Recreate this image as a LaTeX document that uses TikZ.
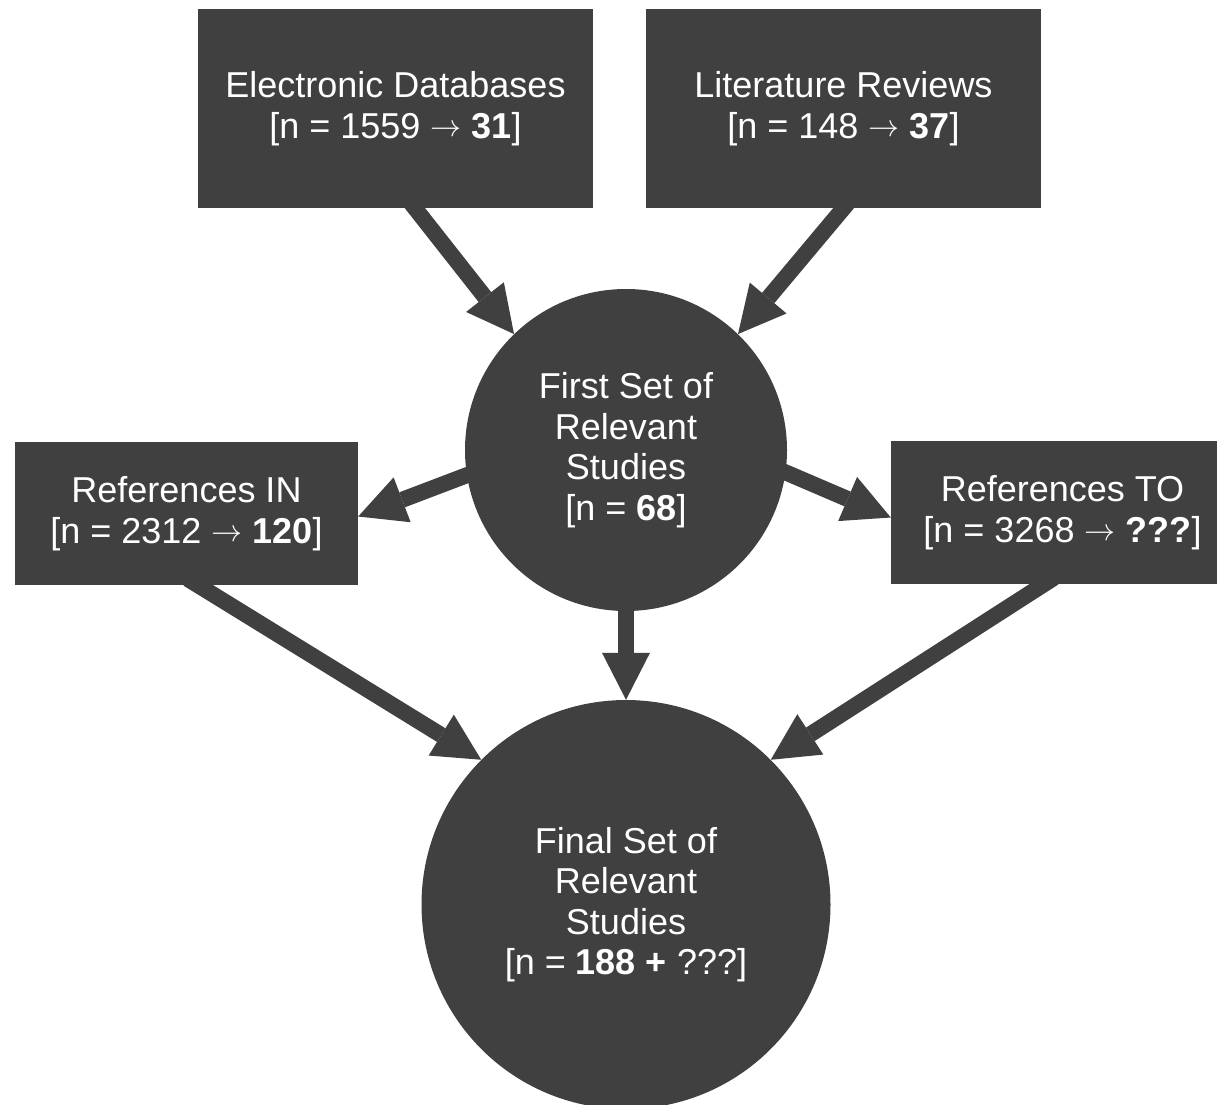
\RequirePackage{fix-cm}
\documentclass[tikz,border=0pt]{standalone}
\usepackage{fontspec}
\setmainfont{Liberation Sans}
\usetikzlibrary{arrows.meta}
\definecolor{dg}{HTML}{404040}
\newcommand{\flowarr}{{\fontsize{31}{31}\selectfont\raisebox{1.5pt}{$\rightarrow$}}}
\begin{document}
\begin{tikzpicture}[x=1pt,y=-1pt,
  lbl/.style={text=white, inner sep=0pt, align=center, font=\fontsize{36}{40.5}\selectfont},
  box/.style={lbl, rectangle, fill=dg},
  circ/.style={lbl, circle, fill=dg},
  conn/.style={draw=dg, line width=16pt, shorten <=-12pt, -{Triangle[length=47pt,width=48pt,line width=0pt]}}]
\path[use as bounding box, fill=white] (0,0) rectangle (1217,1104);
\node[box, minimum width=395pt, minimum height=199pt] (db) at (395.5,108.5)
  {Electronic Databases\\ {[}n = 1559 \flowarr{} \textbf{31}{]}};
\node[box, minimum width=395pt, minimum height=199pt] (lr) at (843.5,108.5)
  {Literature Reviews\\ {[}n = 148 \flowarr{} \textbf{37}{]}};
\node[circ, minimum size=322pt] (c1) at (626,450)
  {First Set of\\ Relevant\\ Studies\\ {[}n = \textbf{68}{]}};
\node[box, minimum width=343pt, minimum height=143pt] (in) at (186.5,513.5)
  {References IN\\ {[}n = 2312 \flowarr{} \textbf{120}{]}};
\node[box, minimum width=343pt, minimum height=143pt] (to) at (1062.5,512.5)
  {References TO\\ {[}n = 3268 \flowarr{} \textbf{???}{]}};
\node[circ, minimum size=409pt] (c2) at (626,904.5)
  {Final Set of\\ Relevant\\ Studies\\ {[}n = \textbf{188 +} ???{]}};
\draw[conn] ([xshift=19.5pt]db.south) -- (c1.134);
\draw[conn] (lr.south) -- (c1.46);
\draw[conn] (c1.189) -- ([yshift=-3pt]in.east);
\draw[conn] (c1.352) -- ([yshift=-5pt]to.west);
\draw[conn] (c1.south) -- (c2.north);
\draw[conn] ([xshift=11.5pt]in.south) -- (c2.135);
\draw[conn] ([xshift=-18.5pt]to.south) -- (c2.45);
\end{tikzpicture}
\end{document}
